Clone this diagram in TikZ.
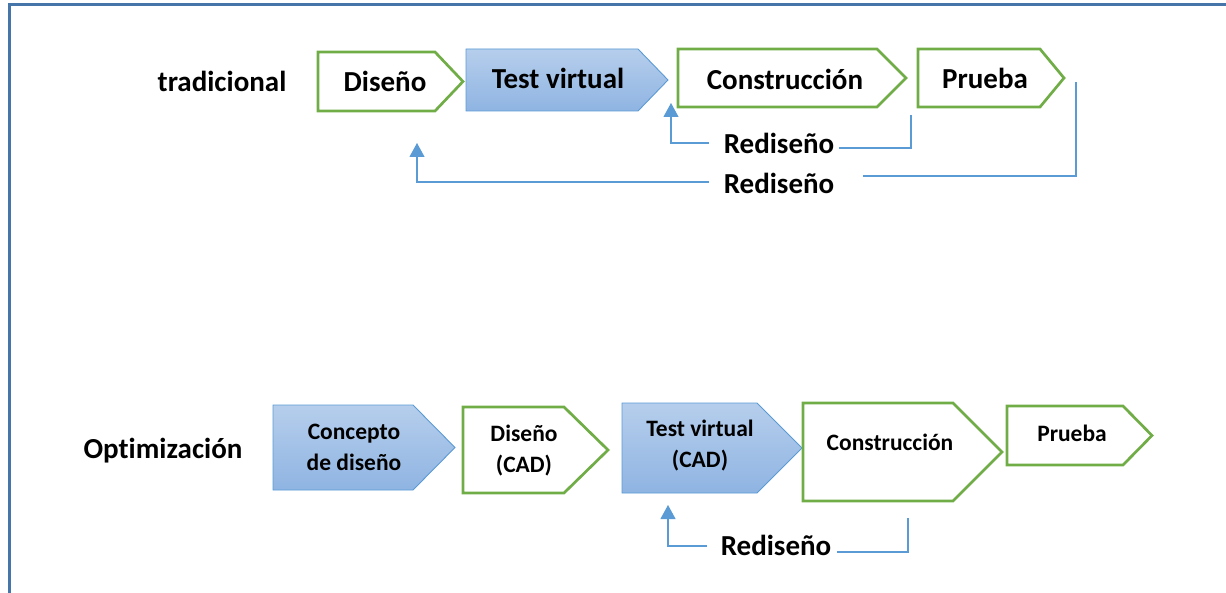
\documentclass[tikz,border=0pt]{standalone}
\usepackage{fontspec}
\setmainfont[Ligatures={NoCommon}]{Carlito}
\usetikzlibrary{arrows.meta}

\definecolor{frameblue}{RGB}{70,117,170}
\definecolor{accgreen}{RGB}{112,173,71}
\definecolor{accblue}{RGB}{91,155,213}
\definecolor{shadetop}{RGB}{182,206,236}
\definecolor{shadebot}{RGB}{143,180,226}

% chevron outline: style, left x, top y, body right x, tip x, bottom y
\newcommand\chevron[6]{%
  \path[#1] (#2,#3) -- (#4,#3) -- (#5,{(#3+#6)/2}) -- (#4,#6) -- (#2,#6) -- cycle;}

\begin{document}
\begin{tikzpicture}[x=1pt,y=-1pt,
  greenbox/.style={draw=accgreen, line width=2.7pt, fill=white, line join=miter},
  bluebox/.style={draw=accblue, line width=0.9pt, top color=shadetop, bottom color=shadebot},
  bigtext/.style={font=\fontsize{29}{31}\selectfont\bfseries, inner sep=0pt, align=center},
  smalltext/.style={font=\fontsize{23.5}{31}\selectfont\bfseries, inner sep=0pt, align=center},
  loopline/.style={draw=accblue, line width=1.1pt},
  looptip/.style={-{Triangle[width=15pt,length=14pt]}, accblue, line width=1.1pt}]

\path[use as bounding box] (0,0) rectangle (1226,593);

% outer frame
\draw[frameblue, line width=3pt] (9,600) -- (9,5) -- (1230,5);

% ---------- traditional process ----------
\node[bigtext] (lblTrad) at (222,81) {tradicional};

\chevron{greenbox}{318}{52}{435}{463}{111}
\chevron{bluebox}{466}{49}{638}{668}{111}
\chevron{greenbox}{678}{49}{877}{906}{107}
\chevron{greenbox}{918}{49}{1040}{1064}{107}

\node[bigtext] (tDis)  at (385,81) {Diseño};
\node[bigtext] (tTest) at (558,78) {Test virtual};
\node[bigtext] (tCons) at (785,79) {Construcción};
\node[bigtext] (tPrue) at (985,78) {Prueba};

\node[bigtext] (r1) at (779,143) {Rediseño};
\node[bigtext] (r2) at (779,183) {Rediseño};

% loop: construction back to virtual test
\coordinate (c1from) at (911,115);
\coordinate (c1mid)  at (839,148);
\coordinate (c1back) at (709,143);
\coordinate (c1to)   at (671,103);
\draw[loopline] (c1from) |- (c1mid);
\draw[looptip] (c1back) -| (c1to);

% loop: test back to design
\coordinate (c2from) at (1076,82);
\coordinate (c2mid)  at (863,176);
\coordinate (c2back) at (709,182);
\coordinate (c2to)   at (417,143);
\draw[loopline] (c2from) |- (c2mid);
\draw[looptip] (c2back) -| (c2to);

% ---------- optimised process ----------
\node[bigtext] (lblOpt) at (163,451) {Optimización};

\chevron{bluebox}{273}{405}{413}{455}{490}
\chevron{greenbox}{463}{407}{564}{608}{493}
\chevron{bluebox}{622}{403}{757}{802}{493}
\chevron{greenbox}{803}{403}{953}{1002}{501}
\chevron{greenbox}{1007}{406}{1123}{1152}{465}

\node[smalltext] (bConc) at (354,447.5) {Concepto\\de diseño};
\node[smalltext] (bDis)  at (524,450.5) {Diseño\\(CAD)};
\node[smalltext] (bTest) at (700,446) {Test virtual\\(CAD)};
\node[smalltext] (bCons) at (890,442) {Construcción};
\node[smalltext] (bPrue) at (1072,433) {Prueba};

\node[bigtext] (r3) at (776,545) {Rediseño};

% loop: construction back to virtual test (CAD)
\coordinate (c3from) at (908,518);
\coordinate (c3mid)  at (837,552);
\coordinate (c3back) at (707,546);
\coordinate (c3to)   at (668,505);
\draw[loopline] (c3from) |- (c3mid);
\draw[looptip] (c3back) -| (c3to);

\end{tikzpicture}
\end{document}
